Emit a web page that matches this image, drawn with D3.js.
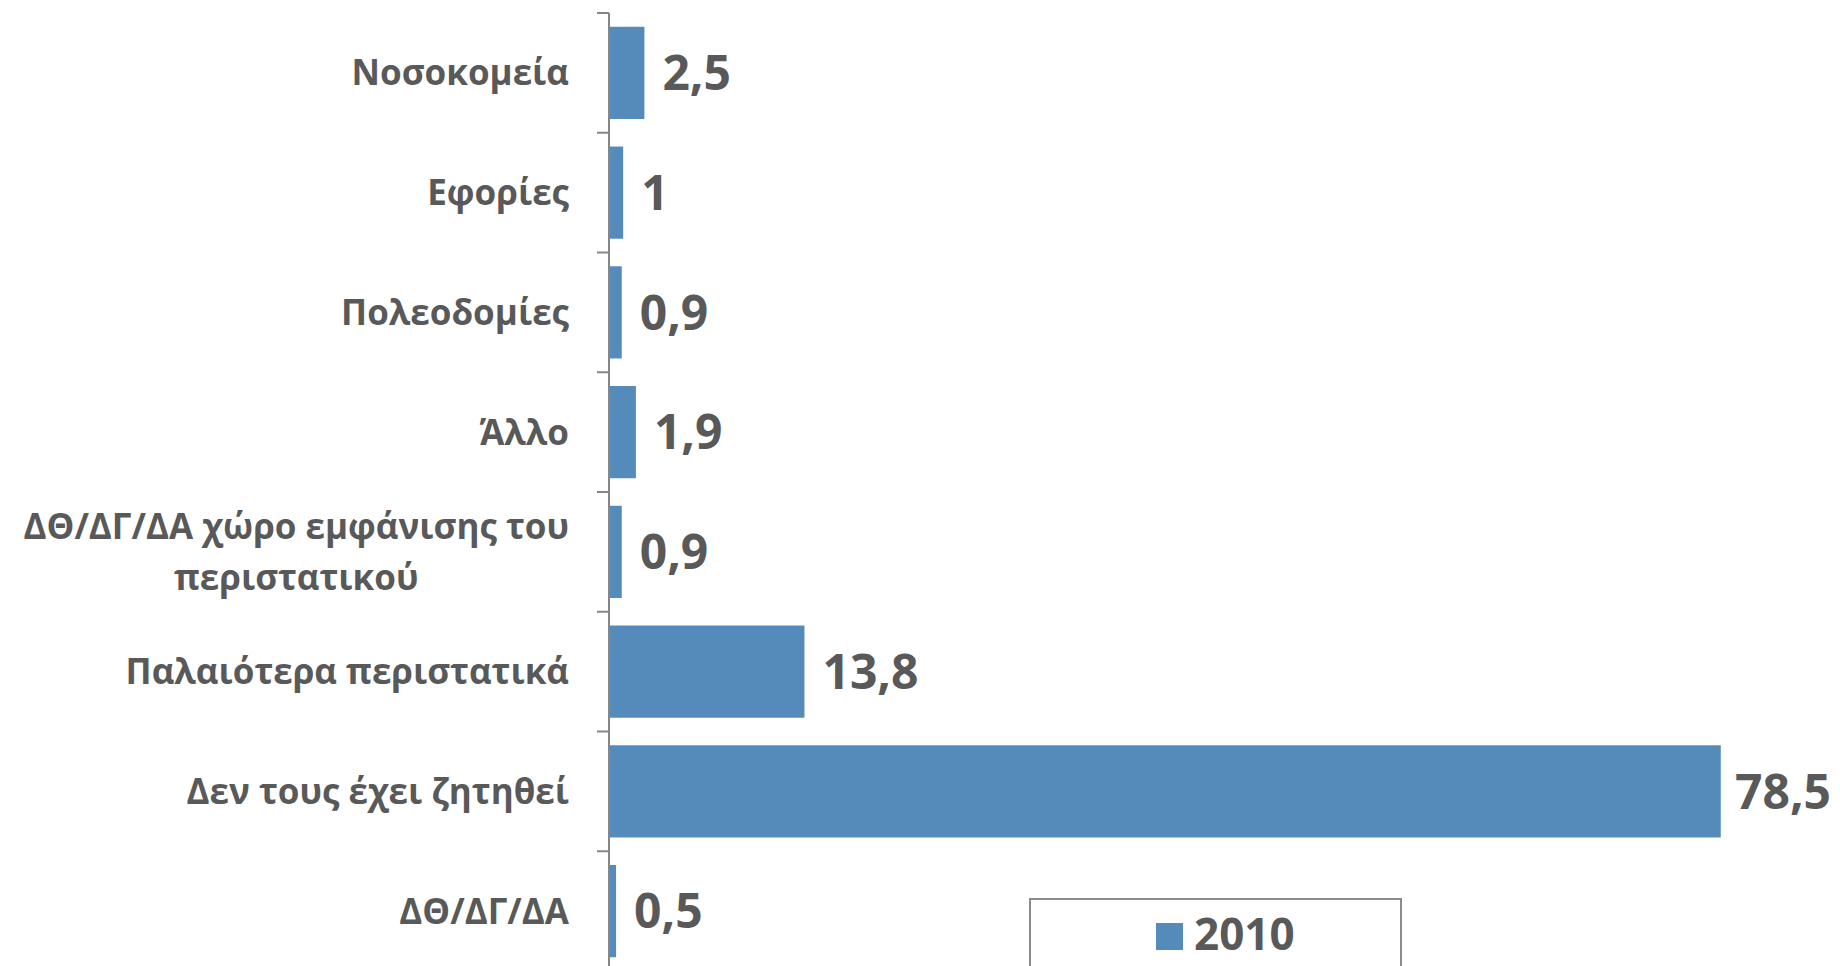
<!DOCTYPE html>
<html>
<head>
<meta charset="utf-8">
<script src="https://cdn.jsdelivr.net/npm/d3@7"></script>
<style>
  body { margin: 0; background: #ffffff; }
  svg { display: block; }
</style>
</head>
<body>
<svg id="chart"></svg>
<script>
const width = 1840
const height = 966

// Data
const categories = [
    "Νοσοκομεία",
    "Εφορίες",
    "Πολεοδομίες",
    "Άλλο",
    "ΔΘ/ΔΓ/ΔΑ χώρο εμφάνισης του περιστατικού",
    "Παλαιότερα περιστατικά",
    "Δεν τους έχει ζητηθεί",
    "ΔΘ/ΔΓ/ΔΑ"
]
const values2010 = [2.5, 1, 0.9, 1.9, 0.9, 13.8, 78.5, 0.5]
const seriesName = "2010"

// Wrapped lines for long labels
const labelLines = {
    "ΔΘ/ΔΓ/ΔΑ χώρο εμφάνισης του περιστατικού": ["ΔΘ/ΔΓ/ΔΑ χώρο εμφάνισης του", "περιστατικού"]
}

// Style configuration
const barColor = "#558BBB"
const textColor = "#595959"
const axisColor = "#868686"
const fontFamily = "'Open Sans', 'Noto Sans', sans-serif"

const axisX = 609
const plotRight = 1742
const plotTop = 13
const plotBottom = 971

const svg = d3.select("#chart")
    .attr("width", width)
    .attr("height", height)
    .style("background", "#ffffff")

const x = d3.scaleLinear()
    .domain([0, 80])
    .range([axisX, plotRight])

const y = d3.scaleBand()
    .domain(categories)
    .range([plotTop, plotBottom])
    .paddingInner(0.23)
    .paddingOuter(0.115)

const rows = categories.map((c, i) => ({ name: c, value: values2010[i] }))

// Bars
svg.append("g")
    .selectAll("rect")
    .data(rows)
    .enter()
    .append("rect")
    .attr("x", x(0))
    .attr("y", d => y(d.name))
    .attr("width", d => x(d.value) - x(0))
    .attr("height", y.bandwidth())
    .attr("fill", barColor)

// Axis line and tick marks at band boundaries
const boundaries = categories.map(c => y(c) - y.step() * y.paddingInner() / 2)
boundaries.push(plotBottom)

const axis = svg.append("g")
axis.append("line")
    .attr("x1", axisX).attr("x2", axisX)
    .attr("y1", plotTop).attr("y2", plotBottom)
    .attr("stroke", axisColor)
    .attr("stroke-width", 2)

axis.selectAll(".tick")
    .data(boundaries)
    .enter()
    .append("line")
    .attr("class", "tick")
    .attr("x1", axisX - 12).attr("x2", axisX)
    .attr("y1", d => d).attr("y2", d => d)
    .attr("stroke", axisColor)
    .attr("stroke-width", 2)

// Category labels (multi-line labels are centered on each other, block right-aligned)
const labelRight = 569
const lineHeight = 51
rows.forEach(d => {
    const lines = labelLines[d.name] || [d.name]
    const cy = y(d.name) + y.bandwidth() / 2
    const g = svg.append("g")
    const texts = lines.map((line, i) => g.append("text")
        .text(line)
        .attr("y", cy + (i - (lines.length - 1) / 2) * lineHeight)
        .attr("dy", "0.36em")
        .attr("font-family", fontFamily)
        .attr("font-weight", 700)
        .attr("font-size", 35)
        .attr("fill", textColor))
    const widths = texts.map(t => t.node().getComputedTextLength())
    const maxW = d3.max(widths)
    texts.forEach((t, i) => {
        t.attr("x", labelRight - maxW / 2).attr("text-anchor", "middle")
    })
})

// Value labels
svg.append("g")
    .selectAll("text")
    .data(rows)
    .enter()
    .append("text")
    .text(d => String(d.value).replace(".", ","))
    .attr("x", d => Math.min(x(d.value) + 18, 1735))
    .attr("y", d => y(d.name) + y.bandwidth() / 2)
    .attr("dy", "0.36em")
    .attr("font-family", fontFamily)
    .attr("font-weight", 700)
    .attr("font-size", 48)
    .attr("fill", textColor)

// Legend
const legend = svg.append("g")
legend.append("rect")
    .attr("x", 1030).attr("y", 899)
    .attr("width", 371).attr("height", 120)
    .attr("fill", "#ffffff")
    .attr("stroke", "#8c8c8c")
    .attr("stroke-width", 2)
legend.append("rect")
    .attr("x", 1156).attr("y", 923)
    .attr("width", 27).attr("height", 27)
    .attr("fill", barColor)
legend.append("text")
    .text(seriesName)
    .attr("x", 1194)
    .attr("y", 950)
    .attr("font-family", fontFamily)
    .attr("font-weight", 700)
    .attr("font-size", 44)
    .attr("fill", textColor)
</script>
</body>
</html>
